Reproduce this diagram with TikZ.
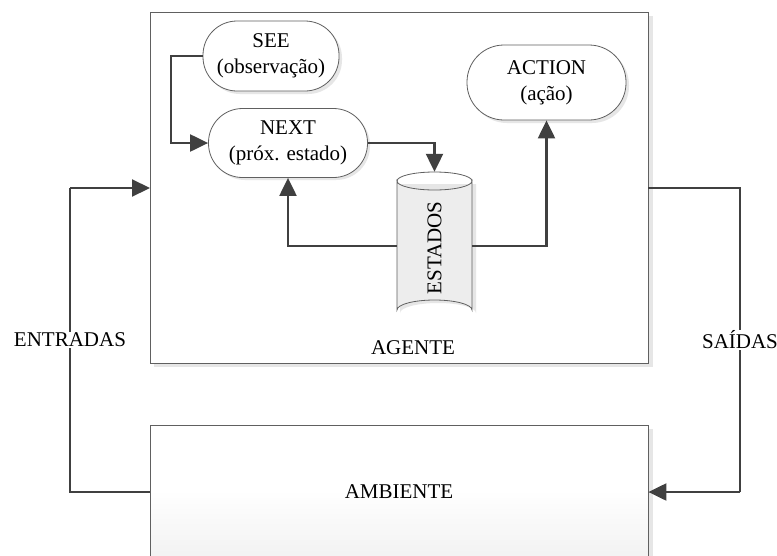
\documentclass[tikz,border=0pt]{standalone}
\usepackage{fontspec}
\setmainfont{Liberation Serif}
\usetikzlibrary{arrows.meta}
\definecolor{conn}{HTML}{404040}
\definecolor{bord}{HTML}{606060}
\definecolor{shad}{HTML}{E6E6E6}
\begin{document}
\begin{tikzpicture}[x=1pt,y=-1pt,
  txt/.style={font=\fontsize{21}{26}\selectfont, align=center, inner sep=0pt},
  stadium/.style={txt, draw=bord, line width=0.8pt, fill=white, rounded corners=34pt},
  conn/.style={draw=conn, line width=2.2pt, -{Triangle[length=18pt,width=17pt]}},
  plain/.style={draw=conn, line width=2.2pt},
  lbl/.style={txt, fill=white, inner sep=1pt}]
\useasboundingbox (0,0) rectangle (777,555);
\clip (0,0) rectangle (777,555);
% agent box
\fill[shad] (154,16) rectangle (653,367);
\node[draw=bord, line width=0.8pt, fill=white, minimum width=498pt, minimum height=351pt, inner sep=0pt] (agent) at (399,187.5) {};
\node[txt] (agl) at (413,348) {AGENTE};
% ambiente box
\fill[shad] (154,429) rectangle (653,570);
\shade[top color=white, bottom color=white] (150,425) rectangle (648,490);
\shade[top color=white, bottom color=gray!12] (150,490) rectangle (648,570);
\node[draw=bord, line width=0.8pt, minimum width=498pt, minimum height=134pt, inner sep=0pt] (amb) at (399,492) {};
\node[txt] (ambl) at (399,492) {AMBIENTE};
% stadium shadows
\fill[shad, rounded corners=34pt] (206,24) rectangle (342,94);
\fill[shad, rounded corners=34pt] (211,111) rectangle (370,180);
\fill[shad, rounded corners=37pt] (470,48) rectangle (629,123);
% stadium nodes
\node[stadium, minimum width=136pt, minimum height=70pt] (see) at (271,56) {SEE\\(observação)};
\node[stadium, minimum width=159pt, minimum height=69pt] (next) at (288,143) {NEXT\\(próx. estado)};
\node[stadium, minimum width=159pt, minimum height=75pt, rounded corners=37pt] (action) at (546.5,82.5) {ACTION\\(ação)};
% cylinder
\fill[shad] (400,184) -- (400,313) arc[start angle=180,end angle=360,x radius=38,y radius=10] -- (476,184) -- cycle;
\filldraw[fill=gray!14, draw=bord, line width=0.8pt] (397,181) -- (397,310) arc[start angle=180,end angle=360,x radius=37.5,y radius=10] -- (472,181) arc[start angle=0,end angle=180,x radius=37.5,y radius=9] -- cycle;
\draw[bord, line width=0.8pt] (397,181) arc[start angle=180,end angle=360,x radius=37.5,y radius=9];
\node[txt, minimum width=75pt, minimum height=148pt] (est) at (434.5,246) {};
\node[txt, rotate=90] (estl) at (434.5,248) {ESTADOS};
% internal connectors
\draw[conn] (see.west) -- ++(-32,0) |- (next.west);
\draw[conn] (next.east) -| (est.north);
\draw[conn] (est.west) -| (next.south);
\draw[conn] (est.east) -| (action.south);
% external connectors
\coordinate (ain) at (150,188);
\coordinate (aout) at (648,188);
\draw[plain] (amb.west) -- (70,492) -- (70,188);
\draw[conn] (70,188) -- (ain);
\draw[plain] (aout) -- (740,188) -- (740,492);
\draw[conn] (740,492) -- (amb.east);
\node[lbl] (ent) at (70,340) {ENTRADAS};
\node[lbl] (sai) at (740,340) {SAÍDAS};
\end{tikzpicture}
\end{document}
